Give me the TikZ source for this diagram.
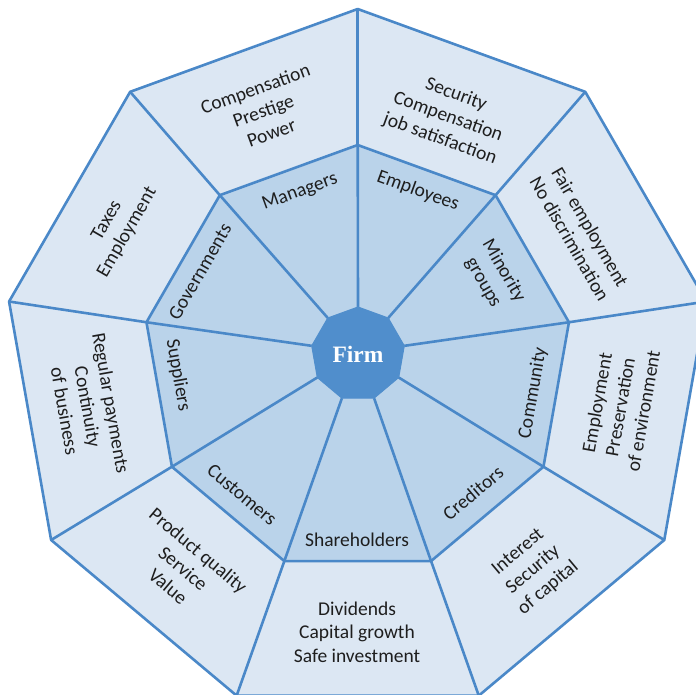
\documentclass[tikz,border=0pt]{standalone}
\usepackage{fontspec}
\setmainfont{Carlito}
\newfontfamily\firmfont{Liberation Serif}
\usetikzlibrary{calc}
\definecolor{outerfill}{HTML}{DCE7F3}
\definecolor{midfill}{HTML}{BAD3EA}
\definecolor{firmfill}{HTML}{508ECC}
\definecolor{edgecol}{HTML}{4A88C8}
\definecolor{txt}{HTML}{1E1E1E}
\begin{document}
\begin{tikzpicture}[x=1pt,y=1pt,
  ring/.style={draw=edgecol,line width=2.6pt,line join=round},
  lab/.style={text=txt,font=\fontsize{19.5}{23.5}\selectfont,align=center,inner sep=0pt},
]
\useasboundingbox (0,0) rectangle (696,694);
\clip (0,0) rectangle (696,694);
\coordinate (CO) at (357.7,331);
\coordinate (CM) at (357.7,334.5);
\coordinate (CF) at (358,340);
\foreach \i in {0,...,8}{
  \coordinate (O\i) at ($(CO)+(90-40*\i:354pt)$);
  \coordinate (M\i) at ($(CM)+(90-40*\i:214.5pt)$);
  \coordinate (F\i) at ($(CF)+(90-40*\i:47pt)$);
}
\filldraw[ring,fill=outerfill] (O0)--(O1)--(O2)--(O3)--(O4)--(O5)--(O6)--(O7)--(O8)--cycle;
\filldraw[ring,fill=midfill] (M0)--(M1)--(M2)--(M3)--(M4)--(M5)--(M6)--(M7)--(M8)--cycle;
\foreach \i in {0,...,8}{
  \draw[ring] (O\i)--(M\i);
  \draw[ring] (M\i)--(F\i);
}
\filldraw[fill=firmfill,draw=firmfill,line width=1pt,line join=round] (F0)--(F1)--(F2)--(F3)--(F4)--(F5)--(F6)--(F7)--(F8)--cycle;
\node[text=white,font=\firmfont\bfseries\fontsize{23.5}{26}\selectfont,inner sep=0pt] (firm) at (CF) {Firm};

% middle ring
\node[lab,rotate=20]  (managers) at (300,502) {Managers};
\node[lab,rotate=-20] (employees) at (418,503) {Employees};
\node[lab,rotate=-60] (minority) at (493.3,417.3) {Minority\\groups};
\node[lab,rotate=80]  (community) at (533,301) {Community};
\node[lab,rotate=40]  (creditors) at (473,201) {Creditors};
\node[lab]            (shareholders) at (357,154) {Shareholders};
\node[lab,rotate=-40] (customers) at (242,199) {Customers};
\node[lab,rotate=-80] (suppliers) at (178,319) {Suppliers};
\node[lab,rotate=60]  (governments) at (200,422.3) {Governments};

% outer ring
\node[lab,rotate=20]  (o1) at (263.3,583.3) {Compensation\\Prestige\\Power};
\node[lab,rotate=-20] (o2) at (448,577) {Security\\Compensation\\job satisfaction};
\node[lab,rotate=-60] (o3) at (580,461) {Fair employment\\No discrimination};
\node[lab,rotate=80]  (o4) at (620,287) {Employment\\Preservation\\of environment};
\node[lab,rotate=40]  (o5) at (533.3,124) {Interest\\Security\\of capital};
\node[lab]            (o6) at (357,62) {Dividends\\Capital growth\\Safe investment};
\node[lab,rotate=-40] (o7) at (183.3,125.7) {Product quality\\Service\\Value};
\node[lab,rotate=-80] (o8) at (88,287) {Regular payments\\Continuity\\of business};
\node[lab,rotate=60]  (o9) at (117.3,467.3) {Taxes\\Employment};
\end{tikzpicture}
\end{document}
